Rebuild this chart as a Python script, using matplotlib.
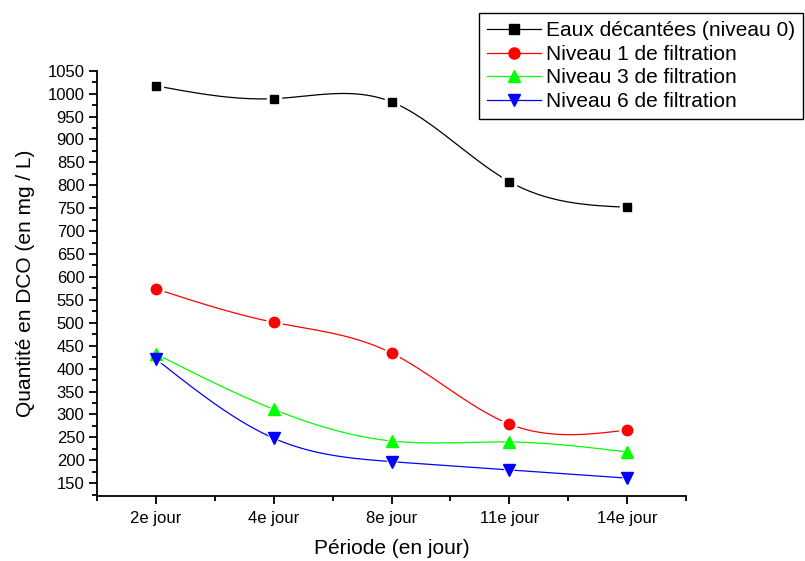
import numpy as np
import matplotlib
matplotlib.use("Agg")
import matplotlib.pyplot as plt
from matplotlib.ticker import MultipleLocator

plt.rcParams['font.family'] = ['Liberation Sans', 'DejaVu Sans']

categories = ["2e jour", "4e jour", "8e jour", "11e jour", "14e jour"]
series_names = ["Eaux décantées (niveau 0)", "Niveau 1 de filtration",
                "Niveau 3 de filtration", "Niveau 6 de filtration"]
niveau0 = [1017, 989, 982, 808, 752]
niveau1 = [574, 501, 434, 279, 266]
niveau3 = [432, 311, 242, 240, 218]
niveau6 = [421, 248, 197, 179, 161]
colors = ["#000000", "#FF0000", "#00FF00", "#0000FF"]
markers = ["s", "o", "^", "v"]
msizes = [6, 7.5, 8.5, 8.5]


def natural_spline(x, y, n=200):
    x = np.asarray(x, float); y = np.asarray(y, float)
    k = len(x)
    h = np.diff(x)
    A = np.zeros((k, k)); b = np.zeros(k)
    A[0, 0] = 1; A[-1, -1] = 1
    for i in range(1, k - 1):
        A[i, i - 1] = h[i - 1]
        A[i, i] = 2 * (h[i - 1] + h[i])
        A[i, i + 1] = h[i]
        b[i] = 3 * ((y[i + 1] - y[i]) / h[i] - (y[i] - y[i - 1]) / h[i - 1])
    c = np.linalg.solve(A, b)
    xs = np.linspace(x[0], x[-1], n)
    ys = np.empty_like(xs)
    for j, xv in enumerate(xs):
        i = min(np.searchsorted(x, xv, side='right') - 1, k - 2)
        dx = xv - x[i]
        bi = (y[i + 1] - y[i]) / h[i] - h[i] * (2 * c[i] + c[i + 1]) / 3
        di = (c[i + 1] - c[i]) / (3 * h[i])
        ys[j] = y[i] + bi * dx + c[i] * dx ** 2 + di * dx ** 3
    return xs, ys


fig = plt.figure(figsize=(8.05, 5.61), dpi=100)
ax = fig.add_axes([97 / 805, 1 - 496 / 561, (686 - 97) / 805, (496 - 70.7) / 561])

x = np.arange(1, len(categories) + 1)
handles = []
for vals, name, col, mk, ms in zip([niveau0, niveau1, niveau3, niveau6],
                                   series_names, colors, markers, msizes):
    xs, ys = natural_spline(x, vals)
    ax.plot(xs, ys, color=col, lw=0.9, zorder=2)
    ax.plot(x, vals, linestyle='none', marker=mk, markersize=ms + 3.5,
            color='white', markeredgecolor='white', zorder=3)
    ax.plot(x, vals, linestyle='none', marker=mk, markersize=ms,
            color=col, markeredgecolor=col, zorder=4)
    h, = ax.plot([], [], color=col, lw=0.9, marker=mk, markersize=ms + 0.5,
                 markeredgecolor=col, label=name)
    handles.append(h)

ax.set_xlim(0.5, 5.5)
ax.set_ylim(122, 1050)
ax.set_xticks(x)
ax.set_xticklabels(categories)
ax.xaxis.set_minor_locator(MultipleLocator(0.5))
ax.yaxis.set_minor_locator(MultipleLocator(25))
ax.set_yticks(np.arange(150, 1051, 50))

for s in ['top', 'right']:
    ax.spines[s].set_visible(False)
for s in ['left', 'bottom']:
    ax.spines[s].set_linewidth(1.3)

ax.tick_params(axis='both', which='major', direction='out', length=6,
               width=1.3, labelsize=12, pad=3)
ax.tick_params(axis='x', which='major', pad=5)
ax.tick_params(axis='both', which='minor', direction='out', length=3.5,
               width=1.3)

ax.set_xlabel("Période (en jour)", fontsize=15, labelpad=9)
ax.set_ylabel("Quantité en DCO (en mg / L)", fontsize=15, labelpad=9)

leg = fig.legend(handles=handles, loc='upper right',
                 bbox_to_anchor=(803 / 805, 1 - 13 / 561), fontsize=15,
                 frameon=True, fancybox=False, edgecolor='black',
                 framealpha=1, handlelength=2.6, handletextpad=0.2,
                 labelspacing=0.22, borderpad=0.4, borderaxespad=0)
leg.get_frame().set_linewidth(1.0)

fig.savefig("out.png", dpi=100)
